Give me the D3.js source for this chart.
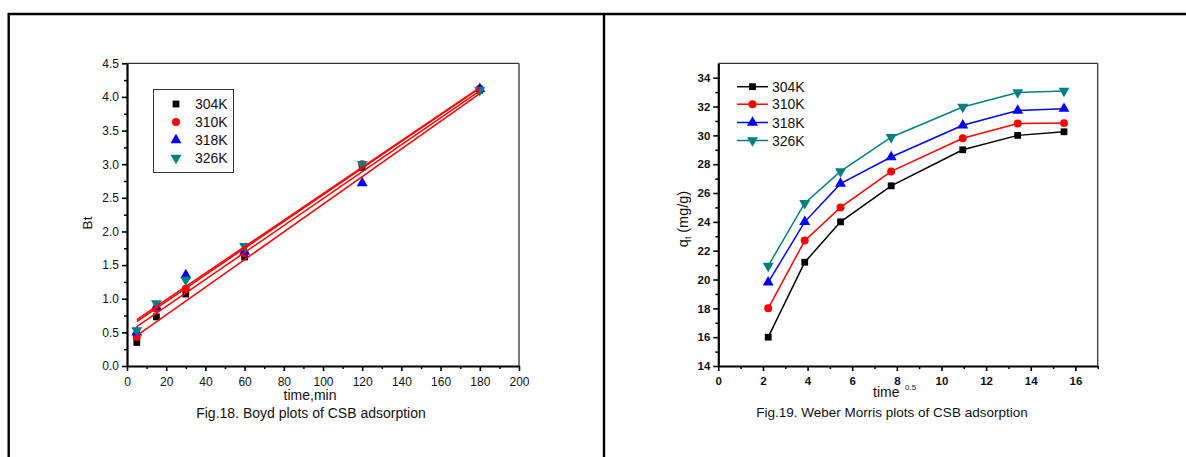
<!DOCTYPE html>
<html><head><meta charset="utf-8">
<script src="https://cdn.jsdelivr.net/npm/d3@7"></script>
<style>
html,body{margin:0;padding:0;background:#fff;}
svg{display:block;font-family:"Liberation Sans",Arial,sans-serif;}
</style></head>
<body>
<svg id="c" width="1186" height="457"></svg>
<script>
// ---------- DATA ----------
const seriesNames = ["304K", "310K", "318K", "326K"];
const seriesColors = ["#000000", "#ff0000", "#0000ff", "#008080"];
const seriesSymbols = ["square", "circle", "triangle", "triangleDown"];

// Fig.18 Boyd plot
const boydTime = [5, 15, 30, 60, 120, 180];
const boyd304 = [0.35, 0.73, 1.07, 1.62, 2.95, 4.10];
const boyd310 = [0.43, 0.85, 1.15, 1.68, 3.00, 4.12];
const boyd318 = [0.50, 0.88, 1.35, 1.70, 2.72, 4.12];
const boyd326 = [0.53, 0.93, 1.28, 1.78, 3.00, 4.10];
// fitted lines (values read at t=5 and t=180)
const fitT = [5, 180];
const fitStart = [0.45, 0.585, 0.66, 0.69];
const fitEnd = [4.05, 4.09, 4.13, 4.14];
const boydXTicks = [0, 20, 40, 60, 80, 100, 120, 140, 160, 180, 200];
const boydYTicks = [0.0, 0.5, 1.0, 1.5, 2.0, 2.5, 3.0, 3.5, 4.0, 4.5];

// Fig.19 Weber Morris plot
const wmTime = [2.236, 3.873, 5.477, 7.746, 10.954, 13.416, 15.49];
const wm304 = [16.0, 21.2, 24.0, 26.5, 29.0, 30.0, 30.25];
const wm310 = [18.0, 22.7, 25.0, 27.5, 29.8, 30.82, 30.85];
const wm318 = [19.8, 24.0, 26.65, 28.5, 30.7, 31.72, 31.85];
const wm326 = [20.95, 25.3, 27.5, 29.87, 31.97, 32.98, 33.08];
const wmXTicks = [0, 2, 4, 6, 8, 10, 12, 14, 16];
const wmYTicks = [14, 16, 18, 20, 22, 24, 26, 28, 30, 32, 34];

const boydSeries = [boyd304, boyd310, boyd318, boyd326];
const wmSeries = [wm304, wm310, wm318, wm326];

// ---------- DRAW ----------
const svg = d3.select("#c");

// page frame
svg.append("line").attr("x1", 8).attr("x2", 1186).attr("y1", 14).attr("y2", 14).attr("stroke", "#000").attr("stroke-width", 2.4);
svg.append("line").attr("x1", 8.7).attr("x2", 8.7).attr("y1", 13).attr("y2", 457).attr("stroke", "#000").attr("stroke-width", 2.4);
svg.append("line").attr("x1", 604).attr("x2", 604).attr("y1", 13).attr("y2", 457).attr("stroke", "#000").attr("stroke-width", 2.4);

function symbolPath(kind, size) {
  const t = {square: d3.symbolSquare, circle: d3.symbolCircle, triangle: d3.symbolTriangle, triangleDown: d3.symbolTriangle}[kind];
  return d3.symbol().type(t).size(size)();
}
function drawMarker(g, kind, color, x, y, size) {
  let tr = `translate(${x},${y})`;
  if (kind === "triangleDown") tr += " rotate(180)";
  g.append("path").attr("d", symbolPath(kind, size)).attr("transform", tr).attr("fill", color);
}
const markerSize = {square: 46, circle: 50, triangle: 52, triangleDown: 52};

function drawAxes(x, y, xTicks, yTicks, xMinor, yMinor, fmtX, fmtY, bold, fs, xPad, yPad) {
  const [x0, x1] = x.range();
  const [y0, y1] = y.range();
  const g = svg.append("g");
  // minor ticks
  g.append("g").attr("transform", `translate(0,${y0})`)
    .call(d3.axisBottom(x).tickValues(xMinor).tickSize(3).tickFormat(""))
    .call(s => s.select(".domain").remove())
    .selectAll("line").attr("stroke-width", 1.5);
  g.append("g").attr("transform", `translate(${x0},0)`)
    .call(d3.axisLeft(y).tickValues(yMinor).tickSize(3).tickFormat(""))
    .call(s => s.select(".domain").remove())
    .selectAll("line").attr("stroke-width", 1.5);
  // major
  const ax = g.append("g").attr("transform", `translate(0,${y0})`)
    .call(d3.axisBottom(x).tickValues(xTicks).tickSize(5).tickSizeOuter(0).tickPadding(xPad).tickFormat(fmtX));
  const ay = g.append("g").attr("transform", `translate(${x0},0)`)
    .call(d3.axisLeft(y).tickValues(yTicks).tickSize(5).tickSizeOuter(0).tickPadding(yPad).tickFormat(fmtY));
  [ax, ay].forEach(a => {
    a.select(".domain").attr("stroke-width", 2.2);
    a.selectAll(".tick line").attr("stroke-width", 1.6);
    a.selectAll("text").attr("font-family", "Liberation Sans, Arial, sans-serif")
      .attr("font-size", fs).attr("font-weight", bold ? "bold" : "normal").attr("fill", "#111");
  });
  // top and right frame
  g.append("line").attr("x1", x0).attr("x2", x1).attr("y1", y1).attr("y2", y1).attr("stroke", "#333").attr("stroke-width", 1.3);
  g.append("line").attr("x1", x1).attr("x2", x1).attr("y1", y1).attr("y2", y0).attr("stroke", "#333").attr("stroke-width", 1.3);
}

// ----- Left chart: Boyd -----
const xL = d3.scaleLinear().domain([0, 200]).range([127, 519]);
const yL = d3.scaleLinear().domain([0, 4.5]).range([366, 63.3]);
drawAxes(xL, yL, boydXTicks, boydYTicks,
  d3.range(10, 200, 20), d3.range(0.25, 4.5, 0.5),
  d3.format("d"), d3.format(".1f"), false, 12, 6.5, 3);

const gL = svg.append("g");
boydSeries.forEach((vals, i) => {
  vals.forEach((v, j) => drawMarker(gL, seriesSymbols[i], seriesColors[i], xL(boydTime[j]), yL(v), markerSize[seriesSymbols[i]]));
});
fitStart.forEach((s, i) => {
  gL.append("line").attr("x1", xL(fitT[0])).attr("y1", yL(s)).attr("x2", xL(fitT[1])).attr("y2", yL(fitEnd[i]))
    .attr("stroke", "#ff0000").attr("stroke-width", 1.5);
});
// legend
const legL = svg.append("g");
legL.append("rect").attr("x", 153.5).attr("y", 89.5).attr("width", 80).attr("height", 83).attr("fill", "#fff").attr("stroke", "#333").attr("stroke-width", 1);
const legLRows = [104, 122, 140, 158];
seriesNames.forEach((n, i) => {
  drawMarker(legL, seriesSymbols[i], seriesColors[i], 176, legLRows[i], markerSize[seriesSymbols[i]]);
  legL.append("text").attr("x", 195).attr("y", legLRows[i] + 5).attr("font-size", 14).attr("fill", "#111").text(n);
});
svg.append("text").attr("transform", "translate(91.5,223) rotate(-90)").attr("text-anchor", "middle").attr("font-size", 13.5).attr("fill", "#111").text("Bt");
svg.append("text").attr("x", 310).attr("y", 400).attr("text-anchor", "middle").attr("font-size", 14).attr("fill", "#111").text("time,min");
svg.append("text").attr("x", 311).attr("y", 418).attr("text-anchor", "middle").attr("font-size", 14).attr("fill", "#111").text("Fig.18. Boyd plots of CSB adsorption");

// ----- Right chart: Weber Morris -----
const xR = d3.scaleLinear().domain([0, 17]).range([718.3, 1097.7]);
const yR = d3.scaleLinear().domain([14, 35]).range([366, 63.3]);
drawAxes(xR, yR, wmXTicks, wmYTicks,
  d3.range(1, 18, 2), d3.range(15, 35, 2),
  d3.format("d"), d3.format("d"), true, 11.5, 6, 3);

const gR = svg.append("g");
const line = d3.line().x((d, j) => xR(wmTime[j])).y(d => yR(d));
wmSeries.forEach((vals, i) => {
  gR.append("path").attr("d", line(vals)).attr("fill", "none").attr("stroke", seriesColors[i]).attr("stroke-width", 1.5);
  vals.forEach((v, j) => drawMarker(gR, seriesSymbols[i], seriesColors[i], xR(wmTime[j]), yR(v), markerSize[seriesSymbols[i]]));
});
const legR = svg.append("g");
const legRRows = [86.7, 104.2, 122.5, 140.5];
seriesNames.forEach((n, i) => {
  legR.append("line").attr("x1", 737).attr("x2", 768).attr("y1", legRRows[i]).attr("y2", legRRows[i]).attr("stroke", seriesColors[i]).attr("stroke-width", 1.5);
  drawMarker(legR, seriesSymbols[i], seriesColors[i], 752.5, legRRows[i], markerSize[seriesSymbols[i]]);
  legR.append("text").attr("x", 772).attr("y", legRRows[i] + 5).attr("font-size", 14).attr("fill", "#111").text(n);
});
const yt = svg.append("text").attr("transform", "translate(688,219) rotate(-90)").attr("text-anchor", "middle").attr("font-size", 14.5).attr("fill", "#111");
yt.append("tspan").text("q");
yt.append("tspan").attr("font-size", 8.5).attr("dy", 3).text("t");
yt.append("tspan").attr("dy", -3).text(" (mg/g)");
svg.append("text").attr("x", 873).attr("y", 397).attr("font-size", 14).attr("fill", "#111").text("time");
svg.append("text").attr("x", 905).attr("y", 390).attr("font-size", 8).attr("fill", "#111").text("0.5");
svg.append("text").attr("x", 892).attr("y", 417).attr("text-anchor", "middle").attr("font-size", 13.5).attr("fill", "#111").text("Fig.19. Weber Morris plots of CSB adsorption");
</script>
</body></html>
